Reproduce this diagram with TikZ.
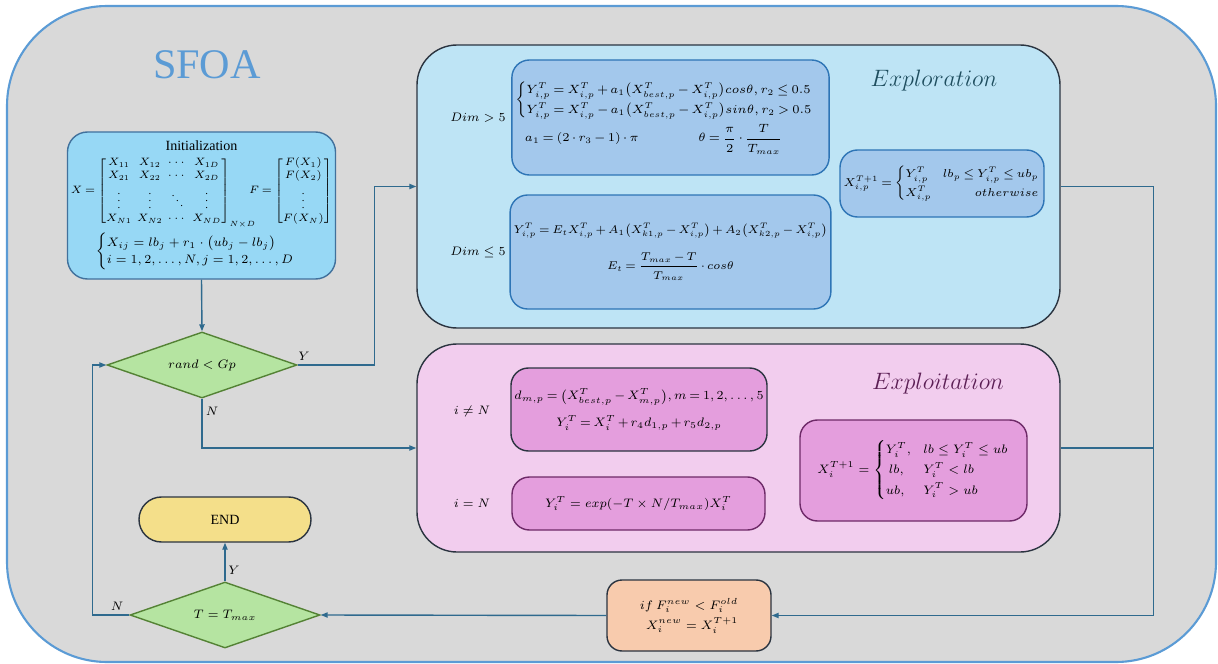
\documentclass[tikz,border=0pt]{standalone}
\usepackage{fix-cm}
\usepackage{amsmath,amssymb}
\usepackage{fontspec}
\setmainfont{Liberation Serif}
\usetikzlibrary{shapes.geometric,arrows.meta}

\definecolor{bggray}{HTML}{D9D9D9}
\definecolor{outerblue}{HTML}{5B9BD5}
\definecolor{lineblue}{HTML}{2F6A8E}
\definecolor{initfill}{HTML}{97D8F5}
\definecolor{initdraw}{HTML}{41719C}
\definecolor{explfill}{HTML}{BEE4F5}
\definecolor{subfill}{HTML}{A3C8EC}
\definecolor{subdraw}{HTML}{2E75B6}
\definecolor{expofill}{HTML}{F2CDEE}
\definecolor{pinkfill}{HTML}{E49EDD}
\definecolor{pinkdraw}{HTML}{6E2A68}
\definecolor{darkline}{HTML}{2B3440}
\definecolor{decfill}{HTML}{B5E4A1}
\definecolor{decdraw}{HTML}{548235}
\definecolor{endfill}{HTML}{F4DF8A}
\definecolor{iffill}{HTML}{F8CBAD}
\definecolor{explotext}{HTML}{1F4E5F}
\definecolor{expotext}{HTML}{5C1F55}

\newcommand{\tightmath}{\medmuskip=2.5mu\thickmuskip=3.5mu}

\tikzset{
  conn/.style={draw=lineblue, line width=0.8pt},
  arr/.style={conn, -{Triangle[length=4pt,width=3pt]}},
  decision/.style={diamond, aspect=2.9, inner sep=1pt, draw=decdraw, fill=decfill,
    line width=0.8pt, minimum width=3.8cm, minimum height=1.32cm},
  bigbox/.style={draw=darkline, line width=0.8pt, rounded corners=0.8cm},
  subbox/.style={draw=subdraw, fill=subfill, line width=0.8pt, rounded corners=0.35cm, inner sep=2pt},
  pinkbox/.style={draw=pinkdraw, fill=pinkfill, line width=0.8pt, rounded corners=0.35cm, inner sep=2pt},
  lbl/.style={inner sep=1pt}
}

\begin{document}
\begin{tikzpicture}[font=\scriptsize]
\useasboundingbox (0,0) rectangle (24.36,-13.28);
\draw[fill=bggray, draw=outerblue, line width=1.2pt, rounded corners=2cm] (0.14,-0.12) rectangle (24.32,-13.24);
\node[text=outerblue, font=\fontsize{24}{28}\selectfont] (title) at (4.14,-1.3) {SFOA};

\node[draw=initdraw, fill=initfill, line width=0.8pt, rounded corners=0.4cm, inner sep=2pt, minimum width=5.26cm, minimum height=2.94cm, align=center] (init) at (4.03,-4.11)
  {{\footnotesize Initialization}\\[2pt]
   {\fontsize{6.1}{7.6}\selectfont\setlength{\arraycolsep}{1.5pt}\tightmath
   $X=\begin{bmatrix} X_{11} & X_{12} & \cdots & X_{1D}\\ X_{21} & X_{22} & \cdots & X_{2D}\\ \vdots & \vdots & \ddots & \vdots\\ X_{N1} & X_{N2} & \cdots & X_{ND}\end{bmatrix}_{N\times D}\mkern-12mu F=\begin{bmatrix} F(X_1)\\ F(X_2)\\ \vdots\\ F(X_N)\end{bmatrix}$}\\[2pt]
   $\begin{cases} X_{ij}=lb_j+r_1\cdot\bigl(ub_j-lb_j\bigr)\\ i=1,2,\dots,N, j=1,2,\dots,D\end{cases}$};

\node[decision] (dec1) at (4.04,-7.3) {$rand<Gp$};

\node[bigbox, fill=explfill, minimum width=12.86cm, minimum height=5.66cm] (explore) at (14.77,-3.73) {};
\node[text=explotext, font=\fontsize{13.5}{16}\selectfont] (explotitle) at (18.68,-1.62) {$Exploration$};
\node[lbl] (dim1) at (9.56,-2.36) {$Dim>5$};
\node[subbox, minimum width=6.3cm, minimum height=2.3cm, align=left, font=\fontsize{6.8}{8.5}\selectfont\tightmath] (rule1) at (13.41,-2.35)
  {$\begin{cases} Y^T_{i,p}=X^T_{i,p}+a_1\bigl(X^T_{best,p}-X^T_{i,p}\bigr)cos\theta, r_2\le 0.5\\[1pt] Y^T_{i,p}=X^T_{i,p}-a_1\bigl(X^T_{best,p}-X^T_{i,p}\bigr)sin\theta, r_2>0.5\end{cases}$\\[2pt]
   \hspace*{0.8em}$a_1=(2\cdot r_3-1)\cdot\pi$\hspace{5em}$\theta=\dfrac{\pi}{2}\cdot\dfrac{T}{T_{max}}$};
\node[lbl] (dim2) at (9.56,-5.04) {$Dim\le 5$};
\node[subbox, minimum width=6.3cm, minimum height=2.28cm, align=center, font=\fontsize{6.4}{8}\selectfont\tightmath] (rule2) at (13.41,-5.04)
  {$Y^T_{i,p}=E_tX^T_{i,p}+A_1\bigl(X^T_{k1,p}-X^T_{i,p}\bigr)+A_2\bigl(X^T_{k2,p}-X^T_{i,p}\bigr)$\\[7pt]
   $E_t=\dfrac{T_{max}-T}{T_{max}}\cdot cos\theta$};
\node[subbox, minimum width=4.04cm, minimum height=1.34cm, font=\fontsize{6.5}{8}\selectfont\tightmath] (bound1) at (18.84,-3.67)
  {$X^{T+1}_{i,p}=\begin{cases} Y^T_{i,p} & lb_p\le Y^T_{i,p}\le ub_p\\[1pt] X^T_{i,p} & \hfill otherwise\end{cases}$};

\node[bigbox, fill=expofill, minimum width=12.86cm, minimum height=4.16cm] (exploit) at (14.77,-8.96) {};
\node[text=expotext, font=\fontsize{13.5}{16}\selectfont] (expotitle) at (18.76,-7.68) {$Exploitation$};
\node[lbl] (cond1) at (9.44,-8.22) {$i\ne N$};
\node[pinkbox, draw=darkline, minimum width=5.08cm, minimum height=1.66cm, align=center, font=\scriptsize\tightmath] (rule3) at (12.78,-8.19)
  {$d_{m,p}=\bigl(X^T_{best,p}-X^T_{m,p}\bigr), m=1,2,\dots,5$\\[5pt]
   $Y^T_i=X^T_i+r_4d_{1,p}+r_5d_{2,p}$};
\node[lbl] (cond2) at (9.44,-10.06) {$i=N$};
\node[pinkbox, minimum width=5.06cm, minimum height=1.06cm] (rule4) at (12.77,-10.07)
  {$Y^T_i=exp(-T\times N/T_{max})X^T_i$\hspace{4em}};
\node[pinkbox, minimum width=4.54cm, minimum height=2.02cm] (bound2) at (18.27,-9.41)
  {$X^{T+1}_i=\begin{cases} Y^T_i, & lb\le Y^T_i\le ub\\[2pt] \ lb, & Y^T_i<lb\\[2pt] ub, & Y^T_i>ub\end{cases}$};

\node[draw=darkline, fill=iffill, line width=0.8pt, rounded corners=0.3cm, minimum width=3.28cm, minimum height=1.42cm, align=right] (update) at (13.78,-12.31)
  {$if\ F^{new}_i<F^{old}_i$\\[1.5pt] $X^{new}_i=X^{T+1}_i$};

\node[decision] (dec2) at (4.5,-12.3) {$T=T_{max}$};
\node[draw=darkline, fill=endfill, line width=0.8pt, rounded corners=0.45cm, minimum width=3.44cm, minimum height=0.9cm, font=\footnotesize] (finish) at (4.5,-10.39) {END};

\draw[arr] (init.south) -- (dec1.north);
\draw[arr] (dec1.east) -- ++(1.54,0) |- (explore.west);
\draw[arr] (dec1.south) |- (exploit.west);
\draw[conn] (explore.east) -- ++(1.86,0) coordinate (rjoin) |- (exploit.east);
\draw[arr] (rjoin) |- (update.east);
\draw[arr] (update.west) -- (dec2.east);
\draw[arr] (dec2.north) -- (finish.south);
\draw[arr] (dec2.west) -- ++(-0.74,0) |- (dec1.west);

\node[lbl] (y1) at (6.08,-7.12) {$Y$};
\node[lbl] (n1) at (4.24,-8.22) {$N$};
\node[lbl] (y2) at (4.68,-11.4) {$Y$};
\node[lbl] (n2) at (2.34,-12.12) {$N$};
\end{tikzpicture}
\end{document}
